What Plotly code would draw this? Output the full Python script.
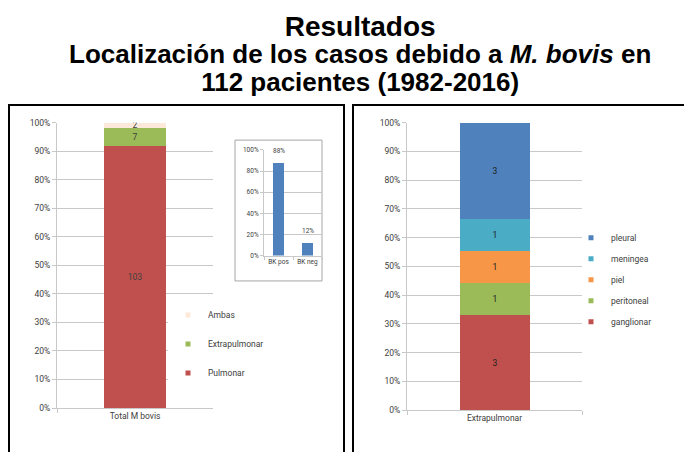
import plotly.graph_objects as go

W, H = 692, 452
PAGE_OFF = 8  # default page margin of the browser body


def fx(px):
    return (px - PAGE_OFF) / W


def fy(py):
    return 1 - (py - PAGE_OFF) / H


# ---------------- data ----------------
left_category = ["Total M bovis"]
left_series = ["Pulmonar", "Extrapulmonar", "Ambas"]
left_counts = [103, 7, 2]
left_colors = ["#C0504D", "#9BBB59", "#FDE9D9"]

inset_categories = ["BK pos", "BK neg"]
inset_values = [88, 12]
inset_labels = ["88%", "12%"]

right_category = ["Extrapulmonar"]
right_series = ["ganglionar", "peritoneal", "piel", "meningea", "pleural"]
right_counts = [3, 1, 1, 1, 3]
right_colors = ["#C0504D", "#9BBB59", "#F79646", "#4BACC6", "#4F81BD"]

main_ticks = [0, 10, 20, 30, 40, 50, 60, 70, 80, 90, 100]
main_tick_labels = ["0%", "10%", "20%", "30%", "40%", "50%", "60%", "70%", "80%", "90%", "100%"]
inset_ticks = [0, 20, 40, 60, 80, 100]
inset_tick_labels = ["0%", "20%", "40%", "60%", "80%", "100%"]

FONT = "Roboto, Liberation Sans, Arial, sans-serif"
TXT = "#404040"
GRID = "#C8C8C8"
FS = 8.5
FS_IN = 6.5

fig = go.Figure()

# ---- left chart: 100% stacked bar ----
left_total = sum(left_counts)
for name, cnt, col in zip(left_series, left_counts, left_colors):
    fig.add_trace(go.Bar(
        x=left_category, y=[cnt / left_total * 100], name=name,
        marker=dict(color=col, line=dict(width=0)), width=0.4,
        text=[str(cnt)], textposition="inside", insidetextanchor="middle",
        textangle=0, constraintext="none",
        textfont=dict(family=FONT, size=FS, color=TXT),
        showlegend=False, hoverinfo="skip", xaxis="x", yaxis="y"))
# legend entries (top-to-bottom order as in the original)
for name, col in reversed(list(zip(left_series, left_colors))):
    fig.add_trace(go.Scatter(
        x=[None], y=[None], mode="markers", name=name,
        marker=dict(symbol="square", size=5, color=col),
        legend="legend", legendgroup="L" + name, xaxis="x", yaxis="y"))

# ---- inset chart ----
fig.add_trace(go.Bar(
    x=inset_categories, y=inset_values, marker=dict(color="#4F81BD", line=dict(width=0)),
    width=0.4, showlegend=False, hoverinfo="skip", xaxis="x2", yaxis="y2"))
for c, v, lab in zip(inset_categories, inset_values, inset_labels):
    fig.add_annotation(x=c, y=v, xref="x2", yref="y2", text=lab, showarrow=False,
                       yshift=12, font=dict(family=FONT, size=FS_IN, color=TXT))

# ---- right chart: 100% stacked bar ----
right_total = sum(right_counts)
for name, cnt, col in zip(right_series, right_counts, right_colors):
    fig.add_trace(go.Bar(
        x=right_category, y=[cnt / right_total * 100], name=name,
        marker=dict(color=col, line=dict(width=0)), width=0.4,
        text=[str(cnt)], textposition="inside", insidetextanchor="middle",
        textangle=0, constraintext="none",
        textfont=dict(family=FONT, size=FS, color="#202020"),
        showlegend=False, hoverinfo="skip", xaxis="x3", yaxis="y3"))
for name, col in reversed(list(zip(right_series, right_colors))):
    fig.add_trace(go.Scatter(
        x=[None], y=[None], mode="markers", name=name,
        marker=dict(symbol="square", size=5, color=col),
        legend="legend2", legendgroup="R" + name, xaxis="x3", yaxis="y3"))

axis_common = dict(showline=True, linecolor=GRID, linewidth=1, ticks="outside",
                   ticklen=4, tickcolor=GRID, tickfont=dict(family=FONT, size=FS, color=TXT),
                   fixedrange=True, tickangle=0)
inset_axis = {**axis_common, "tickfont": dict(family=FONT, size=FS_IN, color=TXT), "ticklen": 3}

fig.update_layout(
    width=W, height=H, margin=dict(l=0, r=0, t=0, b=0),
    paper_bgcolor="white", plot_bgcolor="white",
    barmode="stack", bargap=0,
    font=dict(family=FONT, color=TXT),
    xaxis=dict(domain=[fx(57), fx(213)], anchor="y", range=[-0.5, 0.5],
               tickson="boundaries", showgrid=False, **axis_common),
    yaxis=dict(domain=[fy(412), fy(120)], anchor="x", range=[0, 100],
               tickvals=main_ticks, ticktext=main_tick_labels,
               showgrid=True, gridcolor=GRID, gridwidth=1, zeroline=False, **axis_common),
    xaxis2=dict(domain=[fx(264), fx(322)], anchor="y2", range=[-0.5, 1.5],
                tickson="boundaries", showgrid=False, **inset_axis),
    yaxis2=dict(domain=[fy(256), fy(148)], anchor="x2", range=[0, 100],
                tickvals=inset_ticks, ticktext=inset_tick_labels,
                showgrid=True, gridcolor=GRID, zeroline=False, **inset_axis),
    xaxis3=dict(domain=[fx(407), fx(582)], anchor="y3", range=[-0.5, 0.5],
                tickson="boundaries", showgrid=False, **axis_common),
    yaxis3=dict(domain=[fy(414), fy(120)], anchor="x3", range=[0, 100],
                tickvals=main_ticks, ticktext=main_tick_labels,
                showgrid=True, gridcolor=GRID, zeroline=False, **axis_common),
    legend=dict(x=fx(168), y=fy(302), xanchor="left", yanchor="top",
                bgcolor="white", traceorder="grouped", tracegroupgap=10,
                font=dict(family=FONT, size=FS, color=TXT), itemclick=False),
    legend2=dict(x=fx(571), y=fy(223), xanchor="left", yanchor="top",
                 bgcolor="rgba(0,0,0,0)", traceorder="grouped", tracegroupgap=2,
                 font=dict(family=FONT, size=FS, color=TXT), itemclick=False),
    showlegend=True,
)

# panel frames and inset frame
fig.add_shape(type="rect", xref="paper", yref="paper",
              x0=fx(9), x1=fx(344), y0=fy(475), y1=fy(102),
              line=dict(color="black", width=2), fillcolor="rgba(0,0,0,0)", layer="below")
fig.add_shape(type="rect", xref="paper", yref="paper",
              x0=fx(353), x1=fx(689), y0=fy(475), y1=fy(102),
              line=dict(color="black", width=2), fillcolor="rgba(0,0,0,0)", layer="below")
fig.add_shape(type="rect", xref="paper", yref="paper",
              x0=fx(235), x1=fx(322), y0=fy(282), y1=fy(138),
              line=dict(color="#A6A6A6", width=1), fillcolor="rgba(0,0,0,0)", layer="below")

# title block (three lines in one text)
TFONT = "Liberation Sans, Arial, sans-serif"
title_text = ("<b><span style='font-size:28px'>Resultados</span><br>"
              "<span style='font-size:26px'>Localización de los casos debido a <i>M. bovis</i> en</span><br>"
              "<span style='font-size:26px'>112 pacientes (1982-2016)</span></b>")
fig.add_annotation(text=title_text, xref="paper", yref="paper",
                   x=fx(360), y=fy(4), showarrow=False, xanchor="center", yanchor="top",
                   align="center", font=dict(family=TFONT, size=21, color="black"))

fig.write_html("out.html")
